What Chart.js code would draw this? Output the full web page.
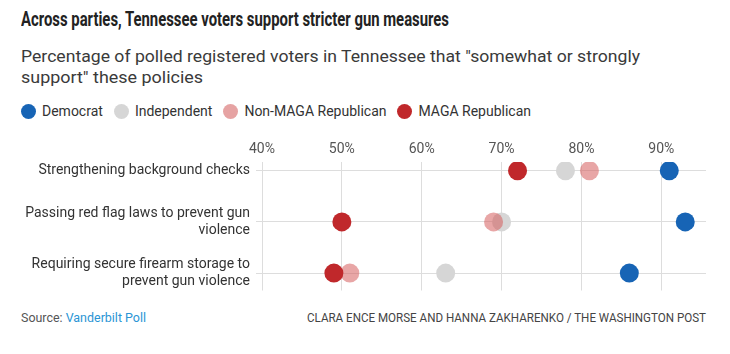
<!DOCTYPE html>
<html><head><meta charset="utf-8">
<script src="https://cdn.jsdelivr.net/npm/chart.js@4"></script>
<style>
html,body{margin:0;padding:0;background:#fff;width:730px;height:354px;overflow:hidden;font-family:Roboto,"Liberation Sans",sans-serif;}
.t{position:absolute;white-space:nowrap;transform-origin:0 0;line-height:1;display:inline-block;}
#title{left:21px;top:9px;font-size:21px;font-weight:700;color:#222;}
.sub{left:21px;font-size:17px;color:#3a3a3a;}
#sub1{top:48px;}
#sub2{top:69px;}
#legend{position:absolute;left:21px;top:103px;display:flex;align-items:center;font-size:14px;color:#333;}
.li{display:flex;align-items:center;margin-right:11px;}
.dot{width:15px;height:15px;border-radius:50%;margin-right:6px;}
#src{left:21px;top:312px;font-size:12.5px;color:#555;}
#src span{color:#2a95d5;}
#credit{left:307px;top:312px;font-size:12.5px;color:#444;}
#wrap{position:absolute;left:0;top:130px;width:730px;height:170px;}
</style></head><body>
<div id="title" class="t">Across parties, Tennessee voters support stricter gun measures</div>
<div id="sub1" class="t sub">Percentage of polled registered voters in Tennessee that "somewhat or strongly</div>
<div id="sub2" class="t sub">support" these policies</div>
<div id="legend"></div>
<div id="wrap"><canvas id="c"></canvas></div>
<div id="src" class="t">Source: <span>Vanderbilt Poll</span></div>
<div id="credit" class="t">CLARA ENCE MORSE AND HANNA ZAKHARENKO / THE WASHINGTON POST</div>
<script>
// ---- data ----
const policies = [
  ["Strengthening background checks"],
  ["Passing red flag laws to prevent gun", "violence"],
  ["Requiring secure firearm storage to", "prevent gun violence"]
];
const parties = ["Democrat", "Independent", "Non-MAGA Republican", "MAGA Republican"];
const democrat = [91, 93, 86];
const independent = [78, 70, 63];
const nonMagaRepublican = [81, 69, 51];
const magaRepublican = [72, 50, 49];
const xTickValues = [40, 50, 60, 70, 80, 90];

// ---- styles ----
const partyColors = ["#1764b5", "#d6d6d6", "rgba(214,92,92,0.55)", "#c0282b"];
const partyLegendColors = ["#1764b5", "#d6d6d6", "#e6a3a3", "#c0282b"];
const drawOrder = [3, 2, 1, 0];

// fit text widths
function fit(id, w) {
  const el = document.getElementById(id);
  const cw = el.getBoundingClientRect().width;
  el.style.transform = 'scaleX(' + (w / cw) + ')';
}
fit('title', 428); fit('sub1', 619); fit('sub2', 182); fit('src', 125); fit('credit', 399);

// legend
const lg = document.getElementById('legend');
parties.forEach((p, i) => {
  const d = document.createElement('div'); d.className = 'li';
  const dot = document.createElement('div'); dot.className = 'dot'; dot.style.background = partyLegendColors[i];
  const s = document.createElement('span'); s.textContent = p;
  d.appendChild(dot); d.appendChild(s); lg.appendChild(d);
});

const series = [democrat, independent, nonMagaRepublican, magaRepublican];
const datasets = series.map((vals, i) => ({
  label: parties[i],
  data: vals.map((v, j) => ({ x: v, y: j })),
  backgroundColor: partyColors[i],
  borderWidth: 0,
  pointRadius: 9.5,
  pointHoverRadius: 9.5,
  order: drawOrder[i]
}));

const font = { family: 'Roboto, "Liberation Sans", sans-serif', size: 14 };
new Chart(document.getElementById('c'), {
  type: 'scatter',
  data: { datasets },
  options: {
    responsive: true, maintainAspectRatio: false, animation: false,
    layout: { padding: { top: 11, right: 24, bottom: 0.5, left: 0 } },
    plugins: { legend: { display: false }, tooltip: { enabled: false } },
    scales: {
      x: {
        type: 'linear', position: 'top', min: 40, max: 95.6,
        afterBuildTicks: s => { s.ticks = xTickValues.map(v => ({ value: v })); },
        afterFit: s => { s.paddingLeft = 0; s.paddingRight = 0; s.height = 21; },
        grid: { color: '#dddddd', drawTicks: false },
        border: { display: false },
        ticks: { callback: v => v + '%', font, color: '#555', padding: 4 }
      },
      y: {
        type: 'linear', reverse: true, min: -0.17, max: 2.34,
        afterBuildTicks: s => { s.ticks = policies.map((_, i) => ({ value: i })); },
        afterFit: s => { s.width = 262; s.paddingTop = 0; s.paddingBottom = 0; },
        grid: { color: '#dddddd', drawTicks: true, tickLength: 6 },
        border: { display: false },
        ticks: { callback: v => policies[v], font, color: '#333', padding: 6 }
      }
    }
  }
});
</script>
</body></html>
